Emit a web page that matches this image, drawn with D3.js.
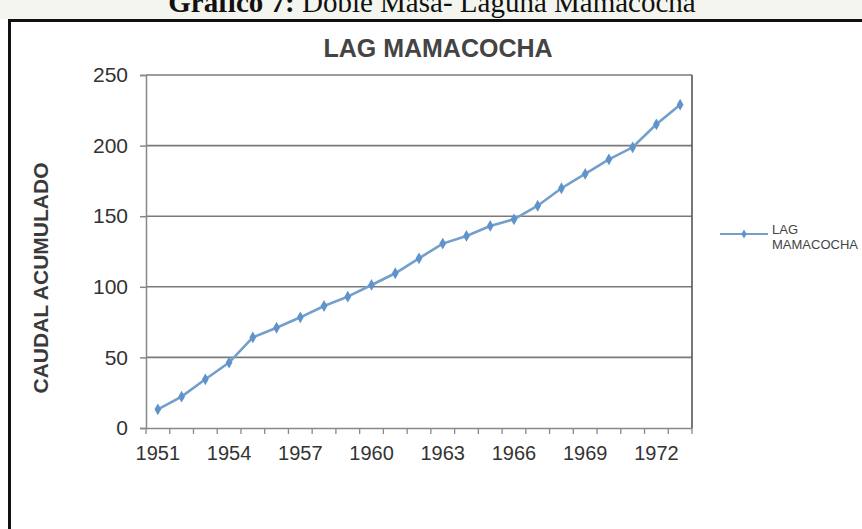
<!DOCTYPE html>
<html>
<head>
<meta charset="utf-8">
<script src="https://cdn.jsdelivr.net/npm/d3@7"></script>
<style>
  body { margin: 0; background: #fff; }
  svg { display: block; }
</style>
</head>
<body>
<div id="chart"></div>
<script>
const years = d3.range(1951, 1974).map(String);
const caudal = [13.2, 22.2, 34.5, 46.3, 64.2, 71.0, 78.4, 86.4, 93.0, 101.3, 109.6, 120.2,
  130.6, 136.0, 143.1, 147.8, 157.4, 169.8, 179.9, 190.3, 198.8, 215.1, 229.0];
const yTicks = [0, 50, 100, 150, 200, 250];
const xLabels = ["1951", "1954", "1957", "1960", "1963", "1966", "1969", "1972"];
const seriesName = "LAG MAMACOCHA";

const W = 862, H = 529;
const plot = {left: 146, right: 692, top: 75, bottom: 428};

const svg = d3.select("#chart").append("svg")
  .attr("width", W).attr("height", H);

// faint scan tint above the frame
svg.append("rect").attr("x", 0).attr("y", 0).attr("width", W).attr("height", 19)
  .attr("fill", "#f3f5ee");

// caption (cut by the top edge, as in the scan)
const cap = svg.append("text")
  .attr("x", 432).attr("y", 12)
  .attr("text-anchor", "middle")
  .attr("font-family", "Liberation Serif, Times New Roman, serif")
  .attr("font-size", 29).attr("fill", "#111");
cap.append("tspan").attr("font-weight", "bold").text("Gráfico 7:");
cap.append("tspan").text(" Doble Masa- Laguna Mamacocha");

// black frame
svg.append("rect").attr("x", 9.5).attr("y", 20.5).attr("width", W + 10).attr("height", H)
  .attr("fill", "#fff").attr("stroke", "#111").attr("stroke-width", 3);

const x = d3.scaleBand().domain(years).range([plot.left, plot.right]).padding(0);
const y = d3.scaleLinear().domain([0, 250]).range([plot.bottom, plot.top]);

// chart title
svg.append("text")
  .attr("x", 438).attr("y", 57)
  .attr("text-anchor", "middle")
  .attr("font-family", "Liberation Sans, Arial, sans-serif")
  .attr("font-weight", "bold").attr("font-size", 25)
  .attr("fill", "#444").text(seriesName);

// gridlines
svg.append("g").selectAll("line")
  .data(yTicks.filter(d => d > 0))
  .join("line")
  .attr("x1", plot.left).attr("x2", plot.right)
  .attr("y1", d => y(d)).attr("y2", d => y(d))
  .attr("stroke", "#7a7a7a").attr("stroke-width", 1.6);

// plot border right
svg.append("line")
  .attr("x1", plot.right).attr("x2", plot.right)
  .attr("y1", plot.top).attr("y2", plot.bottom)
  .attr("stroke", "#555").attr("stroke-width", 1.6);

// y axis
const yAxis = svg.append("g")
  .attr("transform", `translate(${plot.left},0)`)
  .call(d3.axisLeft(y).tickValues(yTicks).tickSize(6).tickPadding(12));
yAxis.select(".domain").attr("stroke", "#888").attr("stroke-width", 1.5);
yAxis.selectAll(".tick line").attr("stroke", "#888").attr("stroke-width", 1.5);
yAxis.selectAll(".tick text")
  .attr("font-family", "Liberation Sans, Arial, sans-serif")
  .attr("font-size", 21).attr("fill", "#333");

// x axis: tick marks between categories, labels every 3 years
const xAxis = svg.append("g")
  .attr("transform", `translate(0,${plot.bottom})`)
  .call(d3.axisBottom(x).tickValues(xLabels).tickSize(0).tickPadding(18));
xAxis.select(".domain").attr("stroke", "#888").attr("stroke-width", 1.5);
xAxis.selectAll(".tick text")
  .attr("font-family", "Liberation Sans, Arial, sans-serif")
  .attr("font-size", 20).attr("fill", "#333");
xAxis.selectAll(".boundary")
  .data(years.concat(["end"]))
  .join("line")
  .attr("class", "boundary")
  .attr("x1", d => d === "end" ? plot.right : x(d))
  .attr("x2", d => d === "end" ? plot.right : x(d))
  .attr("y1", 0).attr("y2", 6)
  .attr("stroke", "#888").attr("stroke-width", 1.3);

// y axis title
svg.append("text")
  .attr("transform", "translate(48,278) rotate(-90)")
  .attr("text-anchor", "middle")
  .attr("font-family", "Liberation Sans, Arial, sans-serif")
  .attr("font-weight", "bold").attr("font-size", 21)
  .attr("fill", "#3a3a3a").text("CAUDAL ACUMULADO");

// series line
const lineColor = "#739fcb";
const line = d3.line()
  .x((d, i) => x(years[i]) + x.bandwidth() / 2)
  .y(d => y(d));
svg.append("path")
  .datum(caudal)
  .attr("d", line)
  .attr("fill", "none")
  .attr("stroke", lineColor).attr("stroke-width", 2.6);

const marker = d3.symbol().type(d3.symbolDiamond).size(40);
svg.append("g").selectAll("path")
  .data(caudal)
  .join("path")
  .attr("transform", (d, i) => `translate(${x(years[i]) + x.bandwidth() / 2},${y(d)})`)
  .attr("d", marker)
  .attr("fill", "#5f93cb");

// legend
const lg = svg.append("g").attr("transform", "translate(720,234)");
lg.append("line").attr("x1", 0).attr("x2", 48).attr("y1", 0).attr("y2", 0)
  .attr("stroke", lineColor).attr("stroke-width", 2);
lg.append("path").attr("transform", "translate(24,0)")
  .attr("d", d3.symbol().type(d3.symbolDiamond).size(24)).attr("fill", "#5f93cb");
const lt = lg.append("text")
  .attr("x", 52).attr("y", 0)
  .attr("font-family", "Liberation Sans, Arial, sans-serif")
  .attr("font-size", 13).attr("fill", "#444");
lt.append("tspan").attr("x", 52).text("LAG");
lt.append("tspan").attr("x", 52).attr("dy", 15).text("MAMACOCHA");
</script>
</body>
</html>
